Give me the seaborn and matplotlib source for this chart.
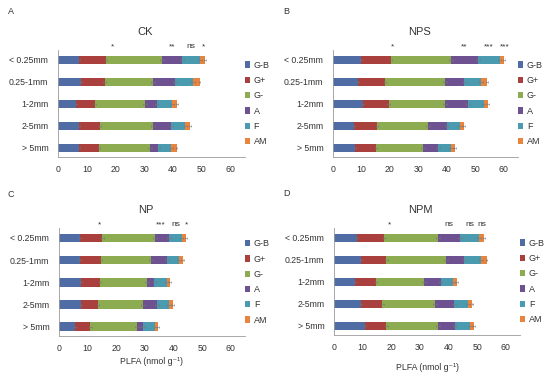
import numpy as np
import pandas as pd
import matplotlib
matplotlib.use("Agg")
import matplotlib.pyplot as plt
from matplotlib.patches import Patch
import seaborn as sns

sizes = ["< 0.25mm", "0.25-1mm", "1-2mm", "2-5mm", "> 5mm"]
groups = ["G-B", "G+", "G-", "A", "F", "AM"]
colors = ["#4f6ca5", "#a9403d", "#8dab50", "#6e5191", "#4a9bb0", "#e8843e"]

# PLFA per group (nmol g-1), rows = aggregate size, cols = groups
ck = [[7.4, 9.3, 19.5, 6.9, 6.2, 1.9],
      [7.9, 8.3, 16.7, 7.7, 6.4, 2.2],
      [6.3, 6.5, 17.3, 4.2, 5.4, 1.6],
      [7.2, 7.5, 18.3, 6.4, 4.9, 1.7],
      [7.4, 6.8, 17.9, 2.8, 4.5, 1.8]]
nps = [[9.8, 10.6, 21.1, 9.5, 7.5, 1.7],
       [8.8, 9.4, 21.0, 7.0, 5.8, 2.0],
       [10.6, 8.9, 19.8, 8.1, 5.5, 1.5],
       [7.5, 7.9, 18.0, 6.5, 4.7, 1.4],
       [7.7, 7.3, 16.5, 5.4, 4.6, 1.4]]
np_ = [[7.3, 7.9, 18.2, 5.1, 4.4, 1.6],
       [7.2, 7.5, 17.6, 5.5, 4.2, 1.5],
       [7.8, 6.6, 16.5, 2.4, 4.3, 1.2],
       [7.6, 6.0, 15.6, 5.0, 4.3, 1.3],
       [5.5, 5.5, 16.3, 2.1, 4.3, 0.8]]
npm = [[8.1, 9.3, 19.0, 7.6, 6.6, 1.7],
       [9.4, 8.9, 20.9, 6.4, 5.7, 2.0],
       [7.3, 7.4, 16.7, 5.9, 4.3, 1.4],
       [9.4, 7.5, 18.3, 6.7, 5.0, 1.5],
       [10.8, 7.5, 17.9, 6.0, 5.5, 1.3]]
# rough error bar size per group
err = [0.4, 0.4, 0.7, 0.6, 0.6, 0.3]

# significance marks above the top bar: (x, text)
sig_ck = [(19.0, "*"), (39.7, "**"), (46.0, "ns"), (50.7, "*")]
sig_nps = [(21.0, "*"), (46.2, "**"), (54.6, "***"), (60.4, "***")]
sig_np = [(14.2, "*"), (35.6, "***"), (40.7, "ns"), (44.5, "*")]
sig_npm = [(19.3, "*"), (40.3, "ns"), (47.4, "ns"), (51.6, "ns")]

panels = [("A", "CK", ck, sig_ck), ("B", "NPS", nps, sig_nps),
          ("C", "NP", np_, sig_np), ("D", "NPM", npm, sig_npm)]

sns.set_style("white")
plt.rcParams["font.family"] = ["Liberation Sans", "DejaVu Sans"]

fig = plt.figure(figsize=(5.5, 3.76), dpi=100)
W, H = 550, 376
boxes = [(58, 50, 245, 157), (333, 50, 518, 157),
         (59, 228, 245, 336), (334, 228, 520, 335)]
letters_xy = [(8, 11), (283, 11), (8, 195), (283, 194)]

for k, (letter, name, vals, sig) in enumerate(panels):
    x0, y0, x1, y1 = boxes[k]
    ax = fig.add_axes([x0 / W, 1 - y1 / H, (x1 - x0) / W, (y1 - y0) / H])
    df = pd.DataFrame(vals, index=sizes, columns=groups)
    cum = df.cumsum(axis=1)
    for j in reversed(range(len(groups))):
        sns.barplot(x=cum[groups[j]].values, y=sizes, orient="h", color=colors[j],
                    width=0.38, saturation=1, errorbar=None, ax=ax, linewidth=0)
    for j in range(len(groups)):
        ax.errorbar(cum[groups[j]].values, np.arange(len(sizes)), xerr=err[j],
                    fmt="none", ecolor="#777777", elinewidth=0.4, capsize=1.0, capthick=0.4)
    ax.set_xlim(0, 65)
    ax.set_ylim(4.42, -0.45)
    ax.set_xticks(range(0, 61, 10))
    ax.tick_params(axis="x", labelsize=6.3, colors="#333333", length=2, width=0.5, pad=4)
    ax.tick_params(axis="y", labelsize=6.3, colors="#333333", length=0, pad=7)
    for s in ["top", "right"]:
        ax.spines[s].set_visible(False)
    for s in ["left", "bottom"]:
        ax.spines[s].set_color("#9a9a9a")
        ax.spines[s].set_linewidth(0.6)
    ax.set_ylabel("")
    ax.set_title(name, fontsize=8, color="#333333", pad=11, x=0.465)
    for sx, st in sig:
        ax.text(sx, -0.6, st, ha="center", va="center", fontsize=6,
                color="#333333", clip_on=False)
    if k >= 2:
        ax.set_xlabel("PLFA (nmol g\u207b\u00b9)", fontsize=6.3, color="#333333",
                      labelpad=3 if k == 2 else 8)
    handles = [Patch(facecolor=c, edgecolor="none") for c in colors]
    ax.legend(handles, groups, loc="center left", bbox_to_anchor=(0.955, 0.5),
              frameon=False, fontsize=6.5, handlelength=0.6, handleheight=0.7,
              handletextpad=0.4, labelspacing=0.7, labelcolor="#333333")
    fig.text(letters_xy[k][0] / W, 1 - letters_xy[k][1] / H, letter, fontsize=6.5,
             color="#333333", va="center")

fig.savefig("out.png", dpi=100)
